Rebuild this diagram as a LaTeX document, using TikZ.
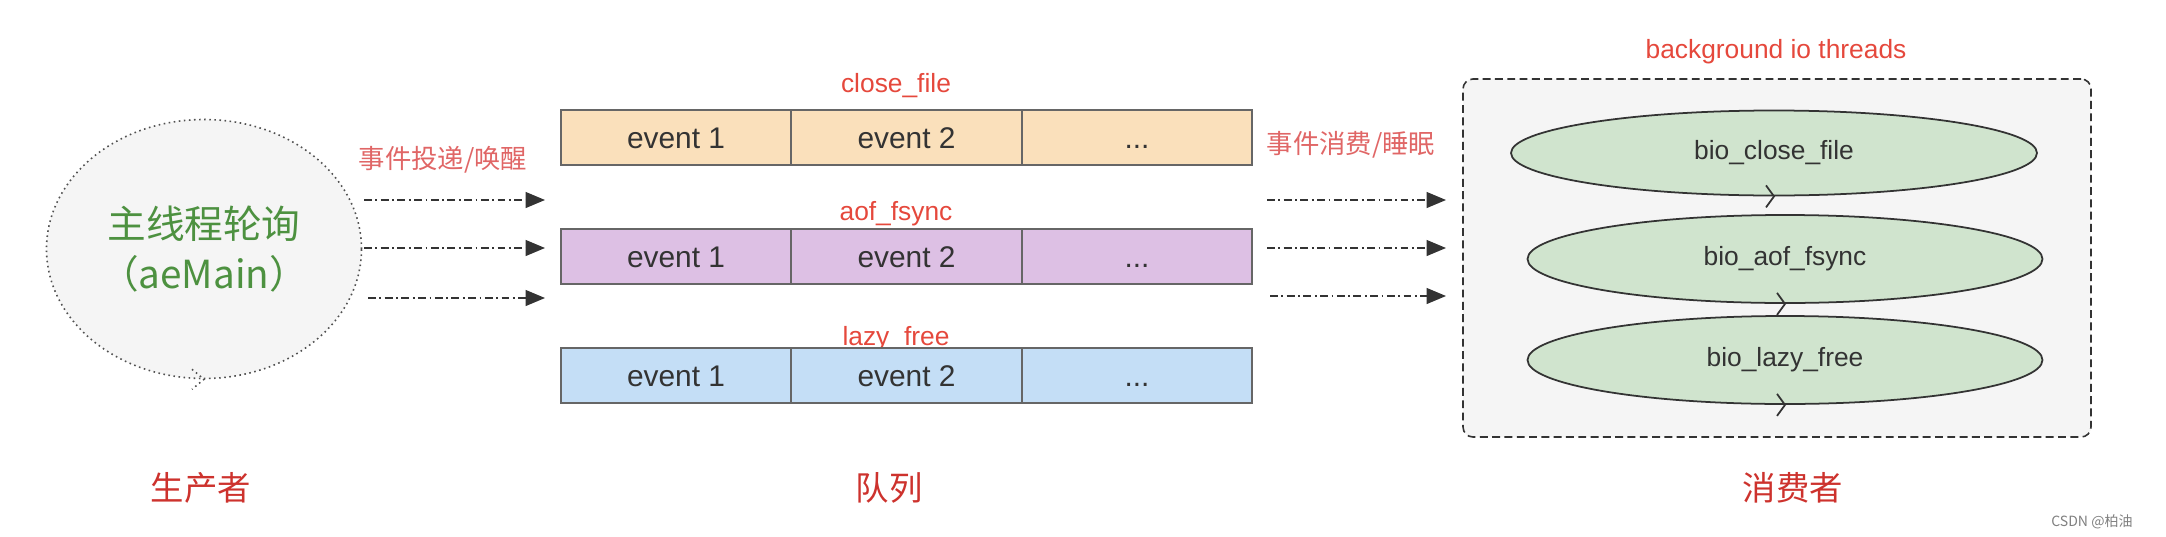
\documentclass[tikz,border=0pt]{standalone}
\usepackage{fontspec}
\setmainfont{Liberation Sans}
\newfontfamily\cjk{Noto Sans CJK SC}
\usetikzlibrary{arrows.meta, positioning, shapes.geometric}

\definecolor{qorange}{RGB}{250,224,187}
\definecolor{qpurple}{RGB}{221,192,228}
\definecolor{qblue}{RGB}{196,222,246}
\definecolor{tgreen}{RGB}{208,228,206}
\definecolor{bggray}{RGB}{245,245,245}
\definecolor{boxgray}{RGB}{102,102,102}
\definecolor{textgray}{RGB}{51,51,51}
\definecolor{loopgray}{RGB}{80,80,80}
\definecolor{maingreen}{RGB}{77,145,64}
\definecolor{tagred}{RGB}{229,72,60}
\definecolor{hintred}{RGB}{224,102,102}
\definecolor{rolered}{RGB}{205,50,45}

\begin{document}
\begin{tikzpicture}[x=0.2mm, y=-0.2mm,
    cell/.style={rectangle, draw=boxgray, line width=1.1pt, outer sep=0pt, inner sep=0pt,
        minimum width=46.1mm, minimum height=11mm, text height=12.2pt, text depth=0pt,
        text=textgray, font=\fontsize{17}{20}\selectfont},
    thread/.style={ellipse, draw=textgray, line width=1pt, fill=tgreen, minimum width=103mm,
        minimum height=17.6mm, text=textgray, font=\fontsize{15}{18}\selectfont},
    flow/.style={draw=textgray, line width=0.9pt, dash pattern=on 4.5pt off 2pt on 1pt off 2pt,
        -{Triangle[length=11pt, width=9pt]}},
    tag/.style={text=tagred, font=\fontsize{15}{18}\selectfont},
    hint/.style={text=hintred, font=\cjk\fontsize{15}{18}\selectfont},
    role/.style={text=rolered, font=\cjk\fontsize{19}{22}\selectfont}
]
    \useasboundingbox (0,0) rectangle (2166,536);

    % 生产者：主线程
    \node[ellipse, draw=loopgray, dotted, line width=0.9pt, fill=bggray, minimum width=63mm,
        minimum height=51.8mm, align=center, text=maingreen,
        font=\cjk\fontsize{22}{28}\selectfont] (main) at (204,249) {主线程轮询\\（aeMain）};
    \draw[loopgray, dotted, line width=0.9pt] ([shift={(-12,-10)}]main.south) -- (main.south)
        -- ([shift={(-12,10)}]main.south);

    % 投递箭头
    \coordinate (s1) at (364,200);
    \coordinate (s2) at (364,248);
    \coordinate (s3) at (368,298);
    \coordinate (e1) at (545,200);
    \coordinate (e2) at (545,248);
    \coordinate (e3) at (545,298);
    \draw[flow] (s1) -- (e1);
    \draw[flow] (s2) -- (e2);
    \draw[flow] (s3) -- (e3);
    \node[hint] (put) at (443,160) {事件投递/唤醒};

    % 队列 close_file
    \node[tag] (qclose) at (896,86) {close\_file};
    \node[cell, fill=qorange] (c11) at (676,137.5) {event 1};
    \node[cell, fill=qorange, right=0pt of c11] (c12) {event 2};
    \node[cell, fill=qorange, right=0pt of c12] (c13) {...};

    % 队列 aof_fsync
    \node[tag] (qaof) at (896,214) {aof\_fsync};
    \node[cell, fill=qpurple] (c21) at (676,256.5) {event 1};
    \node[cell, fill=qpurple, right=0pt of c21] (c22) {event 2};
    \node[cell, fill=qpurple, right=0pt of c22] (c23) {...};

    % 队列 lazy_free
    \node[tag] (qlazy) at (896,339) {lazy\_free};
    \node[cell, fill=qblue] (c31) at (676,375.5) {event 1};
    \node[cell, fill=qblue, right=0pt of c31] (c32) {event 2};
    \node[cell, fill=qblue, right=0pt of c32] (c33) {...};

    % 消费箭头
    \coordinate (u1) at (1267,200);
    \coordinate (u2) at (1267,248);
    \coordinate (u3) at (1270,296);
    \coordinate (v1) at (1446,200);
    \coordinate (v2) at (1446,248);
    \coordinate (v3) at (1446,296);
    \draw[flow] (u1) -- (v1);
    \draw[flow] (u2) -- (v2);
    \draw[flow] (u3) -- (v3);
    \node[hint] (take) at (1351,145) {事件消费/睡眠};

    % 消费者：后台线程
    \node[tag] (ptitle) at (1776,52) {background io threads};
    \node[rectangle, draw=textgray, line width=0.9pt, dash pattern=on 4.5pt off 2.5pt,
        fill=bggray, rounded corners=2mm, minimum width=125.6mm, minimum height=71.6mm] (pool) at (1777,258) {};
    \node[thread, minimum width=105.2mm, minimum height=17mm] (t1) at (1774,153) {bio\_close\_file};
    \node[thread] (t2) at (1785,259) {bio\_aof\_fsync};
    \node[thread] (t3) at (1785,360) {bio\_lazy\_free};
    \draw[textgray, line width=1pt] ([shift={(-8,-11)}]t1.south) -- (t1.south) -- ([shift={(-8,11)}]t1.south);
    \draw[textgray, line width=1pt] ([shift={(-8,-11)}]t2.south) -- (t2.south) -- ([shift={(-8,11)}]t2.south);
    \draw[textgray, line width=1pt] ([shift={(-8,-11)}]t3.south) -- (t3.south) -- ([shift={(-8,11)}]t3.south);

    % 角色标注
    \node[role] (prod) at (201,488) {生产者};
    \node[role] (queue) at (889,488) {队列};
    \node[role] (cons) at (1793,488) {消费者};
    \node[text=gray, font=\cjk\fontsize{8}{10}\selectfont] (mark) at (2092,522) {CSDN @柏油};
\end{tikzpicture}
\end{document}
